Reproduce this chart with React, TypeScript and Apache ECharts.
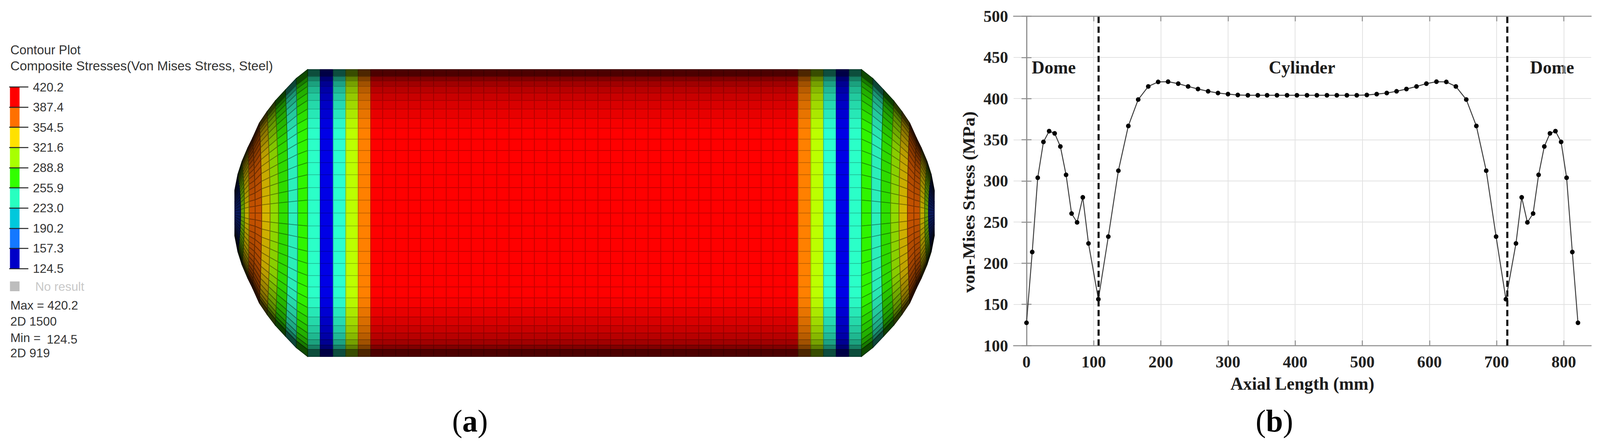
import { useEffect, useRef } from "react";
import * as echarts from "echarts";

// (b) stress along the axial length
const axialLength = [
  0, 8.5, 16.7, 25.2, 33.7, 41.9, 50.4, 58.9, 67.1, 75.3, 83.8, 92.3, 107, 121.8, 136.8, 151.6, 166.3, 181.3, 196,
  210.8, 225.9, 240.6, 255.3, 270.4, 285.1, 300, 314.6, 329.6, 344.4, 358.2, 372.9, 387.9, 402.6, 417.6, 432.3, 447.3,
  462, 477, 491.7, 506.7, 521.4, 536.4, 551, 565.7, 580.7, 595.4, 610.4, 625.1, 639.3, 654.8, 669.8, 684.5, 699.2,
  713.8, 728.8, 737.3, 745.8, 754.3, 762.5, 771, 779.4, 787.6, 796, 804.2, 812.7, 821.1,
];
const vonMises = [
  127.6, 213.6, 303.8, 347.3, 360.4, 357.7, 341.8, 307.3, 260.3, 249.6, 280, 224, 156.3, 232.3, 312.4, 366.7, 398.8,
  414.7, 420.2, 420.5, 418.1, 414.7, 411.6, 408.8, 406.7, 405.4, 404.3, 404, 404, 404, 404, 404, 404, 404, 404, 404,
  404, 404, 404, 404.3, 405.4, 406.7, 408.8, 411.6, 414.7, 418.1, 420.5, 420.2, 414.7, 398.8, 366.7, 312.4, 232.3,
  156.3, 224, 280, 249.6, 260.3, 307.3, 341.8, 357.7, 360.4, 347.3, 303.8, 213.6, 127.6,
];
const domeBoundaries = [107, 716];
const axialTicks = [0, 100, 200, 300, 400, 500, 600, 700, 800];

// (a) contour legend
const legendLabels = ["124.5", "157.3", "190.2", "223.0", "255.9", "288.8", "321.6", "354.5", "387.4", "420.2"];
const legendColors = [
  "#0000c8", "#1478ff", "#00c8dc", "#28ffc0", "#32ff00", "#a8ff00", "#ffe100", "#ff7000", "#ff0000",
];

// (a) tank mesh, all in mm; the tank is 822 long with a radius of 165
const cylinderStations = [
  85.5, 100.4, 115.7, 130.5, 145, 159.8, 173.8, 189.1, 203.9, 218.3, 233.6, 248.5, 262.9, 277.8, 292.6, 307.9, 322.3,
  337.2, 352, 366.9, 382.2, 397.1, 411.9, 426.8, 441.6, 456, 470.9, 485.7, 500.6, 515.4, 530.3, 545.2, 559.6, 574.4,
  589.3, 603.7, 618.5, 632.5, 647.8, 662.2, 677, 691.9, 706.8, 722.1, 736.5,
];
const cylinderColors = [
  "#2bffc8", "#0000e6", "#2bffd0", "#bcff00",
  "#ff8000", "#ff0000", "#ff0000", "#ff0000", "#ff0000", "#ff0000", "#ff0000", "#ff0000", "#ff0000", "#ff0000",
  "#ff0000", "#ff0000", "#ff0000", "#ff0000", "#ff0000", "#ff0000", "#ff0000", "#ff0000", "#ff0000", "#ff0000",
  "#ff0000", "#ff0000", "#ff0000", "#ff0000", "#ff0000", "#ff0000", "#ff0000", "#ff0000", "#ff0000", "#ff0000",
  "#ff0000", "#ff0000", "#ff0000", "#ff0000", "#ff0000", "#ff8000",
  "#bcff00", "#2bffd0", "#0000e6", "#2bffc8",
];
const ringHeights = [165, 156.9, 152, 145.7, 138, 129.5, 119.6, 108.8, 97.6, 85, 71.9, 58, 44.1, 29.2, 14.8, 0];
const ringShades = [0.3, 0.5, 0.63, 0.72, 0.79, 0.85, 0.91, 0.97, 1, 1, 1, 1, 1, 1, 1];

// dome bands from the cylinder out to the pole
const domeAtAxis = [85.5, 73.8, 62.6, 51.3, 41.4, 31.5, 23.9, 16.7, 11.3, 6.8, 0];
const domeAtRim = [85.5, 72, 59.4, 47.3, 37.8, 28.8, 20.7, 15.3, 8.6, 3.6, 0];
const domeRimRatio = [1, 0.937, 0.858, 0.78, 0.706, 0.627, 0.52, 0.455, 0.362, 0.27, 0.16];
const domeColors = [
  "#2ff500", "#2bf0bc", "#2ee000", "#92dc00", "#d8b800", "#cc5500", "#cc5500", "#c8b000", "#6aa800", "#0a1a60",
];
const domeFade = [0, 0.02, 0.06, 0.12, 0.18, 0.28, 0.34, 0.4, 0.45, 0.45];

const TANK_LENGTH = 822;
const TANK_RADIUS = 165;
const FULL_WIDTH = 4177;

const shade = (hex: string, k: number) => {
  const n = parseInt(hex.slice(1), 16);
  const c = [(n >> 16) & 255, (n >> 8) & 255, n & 255].map((v) => Math.round(v * k));
  return `rgb(${c[0]},${c[1]},${c[2]})`;
};

interface Cell {
  points: number[][];
  color: string;
  k: number;
  edge: number;
}

function buildMesh() {
  const rings = [...ringHeights, ...ringHeights.slice(0, -1).reverse().map((h) => -h)];
  const shades = [...ringShades, ...[...ringShades].reverse()];
  const cells: Cell[] = [];

  for (let j = 0; j < rings.length - 1; j++) {
    const top = rings[j];
    const bottom = rings[j + 1];

    for (let i = 0; i < cylinderColors.length; i++) {
      cells.push({
        points: [
          [cylinderStations[i], top],
          [cylinderStations[i + 1], top],
          [cylinderStations[i + 1], bottom],
          [cylinderStations[i], bottom],
        ],
        color: cylinderColors[i],
        k: shades[j],
        edge: 0.78,
      });
    }

    const node = (i: number, h: number) => {
      const t = Math.abs(h) / TANK_RADIUS;
      return [domeAtAxis[i] + (domeAtRim[i] - domeAtAxis[i]) * t * t, h * domeRimRatio[i]];
    };

    const t = Math.max(Math.abs(top), Math.abs(bottom)) / TANK_RADIUS;
    for (let i = 0; i < domeColors.length; i++) {
      const quad = [node(i, top), node(i + 1, top), node(i + 1, bottom), node(i, bottom)];
      const k = shades[j] * (1 - domeFade[i] * t);
      cells.push({ points: quad, color: domeColors[i], k, edge: 0.62 });
      cells.push({
        points: quad.map((p) => [TANK_LENGTH - p[0], p[1]]),
        color: domeColors[i],
        k,
        edge: 0.62,
      });
    }
  }
  return cells;
}

const serif = "'Liberation Serif'";
const sans = "'Liberation Sans'";

function sansText(text: string, x: number, y: number, fill = "#333333", size = 32) {
  return {
    type: "text",
    x,
    y,
    silent: true,
    style: { text, fill, font: `${size}px ${sans}`, align: "left", verticalAlign: "middle" },
  };
}

function serifText(text: string, x: number, y: number, rotation = 0) {
  return {
    type: "text",
    x,
    y,
    rotation,
    silent: true,
    style: { text, fill: "#1c1c1c", font: `bold 46px ${serif}`, align: "center", verticalAlign: "middle" },
  };
}

function captionText(letter: string, x: number, y: number) {
  return {
    type: "text",
    x,
    y,
    silent: true,
    style: {
      text: `({b|${letter}})`,
      fill: "#000000",
      font: `80px ${serif}`,
      align: "center",
      verticalAlign: "middle",
      rich: { b: { font: `bold 80px ${serif}`, fill: "#000000" } },
    },
  };
}

export default function App() {
  const chartRef = useRef<HTMLDivElement>(null);

  useEffect(() => {
    if (!chartRef.current) return;

    const chart = echarts.init(chartRef.current, undefined, { renderer: "svg" });
    const mesh = buildMesh();

    const frameLine = { show: true, lineStyle: { color: "#8c8c8c", width: 2.5 } };
    const innerTick = { show: true, inside: true, length: 13, lineStyle: { color: "#8c8c8c", width: 2.5 } };
    const tickFont = { color: "#222222", fontFamily: serif, fontWeight: "bold" as const, fontSize: 43 };

    chart.setOption({
      animation: false,
      backgroundColor: "#ffffff",
      grid: [
        { left: 2646, top: 41.5, width: 1508, height: 842.5 },
        { left: 613, top: 178, width: 1826, height: 734 },
        { left: 24, top: 222.4, width: 50, height: 464.6 },
      ],
      xAxis: [
        {
          type: "value",
          gridIndex: 0,
          min: -19.3,
          max: 840.8,
          name: "Axial Length (mm)",
          nameLocation: "middle",
          nameGap: 74,
          nameTextStyle: { color: "#1c1c1c", fontFamily: serif, fontWeight: "bold", fontSize: 46 },
          axisLine: frameLine,
          axisTick: { ...innerTick, customValues: axialTicks },
          axisLabel: { ...tickFont, margin: 20, customValues: axialTicks },
          splitLine: { show: true, lineStyle: { color: "#e2e2e2", width: 2 } },
        },
        {
          type: "value",
          gridIndex: 0,
          position: "top",
          min: -19.3,
          max: 840.8,
          axisLine: frameLine,
          axisTick: { ...innerTick, customValues: axialTicks },
          axisLabel: { show: false, customValues: axialTicks },
          splitLine: { show: false },
        },
        { type: "value", gridIndex: 1, min: 0, max: TANK_LENGTH, show: false },
        { type: "value", gridIndex: 2, min: 0, max: 50, show: false },
      ],
      yAxis: [
        {
          type: "value",
          gridIndex: 0,
          min: 100,
          max: 500,
          interval: 50,
          axisLine: frameLine,
          axisTick: innerTick,
          axisLabel: { ...tickFont, margin: 14 },
          splitLine: { show: true, lineStyle: { color: "#e2e2e2", width: 2 } },
        },
        {
          type: "value",
          gridIndex: 0,
          position: "right",
          min: 100,
          max: 500,
          interval: 50,
          axisLine: frameLine,
          axisTick: innerTick,
          axisLabel: { show: false },
          splitLine: { show: false },
        },
        { type: "value", gridIndex: 1, min: -TANK_RADIUS, max: TANK_RADIUS, show: false },
        {
          type: "category",
          gridIndex: 2,
          data: legendLabels,
          boundaryGap: false,
          position: "left",
          axisLine: { show: false },
          axisTick: { show: true, inside: true, length: 50, lineStyle: { color: "#222222", width: 2.5 } },
          axisLabel: {
            inside: true,
            margin: 62,
            interval: 0,
            color: "#333333",
            fontFamily: sans,
            fontSize: 32,
          },
          splitLine: { show: false },
          z: 5,
        },
      ],
      series: [
        {
          type: "line",
          xAxisIndex: 0,
          yAxisIndex: 0,
          data: axialLength.map((x, i) => [x, vonMises[i]]),
          symbol: "circle",
          symbolSize: 12,
          itemStyle: { color: "#000000" },
          lineStyle: { color: "#3c3c3c", width: 2.5 },
          silent: true,
          markLine: {
            silent: true,
            symbol: "none",
            label: { show: false },
            lineStyle: { color: "#111111", width: 5.5, type: [16, 9] },
            data: domeBoundaries.map((x) => ({ xAxis: x })),
          },
        },
        {
          type: "custom",
          xAxisIndex: 2,
          yAxisIndex: 2,
          silent: true,
          clip: false,
          data: mesh.map((c) => c.points[0]),
          renderItem: (params: any, api: any) => {
            const cell = mesh[params.dataIndex];
            return {
              type: "polygon",
              shape: { points: cell.points.map((p) => api.coord(p)) },
              style: {
                fill: shade(cell.color, cell.k),
                stroke: shade(cell.color, cell.k * cell.edge),
                lineWidth: 2,
              },
            };
          },
        },
        {
          type: "custom",
          xAxisIndex: 3,
          yAxisIndex: 3,
          silent: true,
          z: 1,
          data: legendColors.map((_, i) => [2, i]),
          renderItem: (params: any, api: any) => {
            const i = params.dataIndex;
            const a = api.coord([2, i]);
            const b = api.coord([27, i + 1]);
            return {
              type: "rect",
              shape: { x: a[0], y: b[1], width: b[0] - a[0], height: a[1] - b[1] },
              style: { fill: legendColors[i] },
            };
          },
        },
      ],
      graphic: [
        sansText("Contour Plot", 27, 127, "#333333", 33),
        sansText("Composite Stresses(Von Mises Stress, Steel)", 27, 168, "#333333", 34),
        { type: "rect", silent: true, shape: { x: 26, y: 720, width: 25, height: 25 }, style: { fill: "#bdbdbd" } },
        sansText("No result", 92, 733, "#c8c8c8"),
        sansText("Max = 420.2", 27, 781),
        sansText("2D 1500", 27, 822),
        sansText("Min =", 27, 864),
        sansText("124.5", 122, 868),
        sansText("2D 919", 27, 903),
        serifText("von-Mises Stress (MPa)", 2529, 517, Math.PI / 2),
        serifText("Dome", 2751, 172),
        serifText("Cylinder", 3399, 172),
        serifText("Dome", 4052, 172),
        captionText("a", 1227, 1077),
        captionText("b", 3327, 1077),
      ],
    });

    return () => {
      chart.dispose();
    };
  }, []);

  // the browser window can be narrower than the reference, so fit the width
  const fit = Math.min(1, window.innerWidth / FULL_WIDTH);

  return (
    <div
      ref={chartRef}
      style={{
        position: "absolute",
        left: 0,
        top: 0,
        width: FULL_WIDTH,
        height: 1141,
        transform: `scaleX(${fit})`,
        transformOrigin: "0 0",
      }}
    />
  );
}
